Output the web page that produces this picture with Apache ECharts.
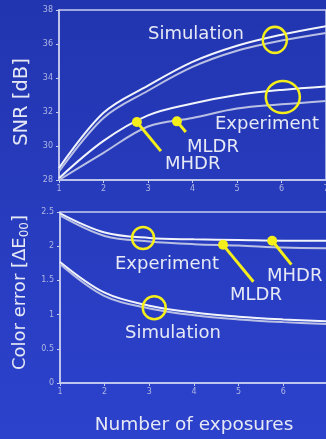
<!DOCTYPE html>
<html>
<head>
<meta charset="utf-8">
<script src="https://cdn.jsdelivr.net/npm/echarts@6/dist/echarts.min.js"></script>
<style>html,body{margin:0;padding:0;background:#2a3cc0;}#c{width:326px;height:439px;}</style>
</head>
<body>
<div id="c"></div>
<script>
// Categories (number of exposures)
const exposures = [1, 2, 3, 4, 5, 6, 7];
// SNR [dB]
const snrSimA = [28.7, 31.95, 33.55, 34.95, 35.9, 36.55, 37.05];
const snrSimB = [28.5, 31.65, 33.25, 34.65, 35.6, 36.2, 36.65];
const snrMHDR = [28.1, 30.3, 31.8, 32.5, 33.0, 33.3, 33.5];
const snrMLDR = [28.0, 29.6, 31.15, 31.65, 32.2, 32.45, 32.65];
// Color error [ΔE00]
const ceSimA = [1.77, 1.32, 1.13, 1.03, 0.97, 0.93, 0.90];
const ceSimB = [1.74, 1.27, 1.09, 0.99, 0.93, 0.89, 0.86];
const ceMHDR = [2.48, 2.20, 2.12, 2.10, 2.09, 2.08, 2.08];
const ceMLDR = [2.45, 2.15, 2.07, 2.03, 2.01, 1.98, 1.97];
// Tick labels
const snrTicks = [28, 30, 32, 34, 36, 38];
const ceTicks = [0, 0.5, 1, 1.5, 2, 2.5];

const pairs = arr => exposures.map((x, i) => [x, arr[i]]);
const bright = '#f2f4fb', dim = '#b9c0e4', yellow = '#f4ee1a';
const txt = '#e6e9f5', tick = '#aeb6e2';
const FONT = 'DejaVu Sans';

function lineSeries(name, data, color, xi, extra) {
  return Object.assign({
    name, type: 'line', xAxisIndex: xi, yAxisIndex: xi, data: pairs(data),
    smooth: 0.35, showSymbol: false, symbol: 'none',
    lineStyle: { color, width: 2 }, z: 3
  }, extra || {});
}
const dot = (coord) => ({ coord, symbol: 'circle', symbolSize: 10,
  itemStyle: { color: yellow }, label: { show: false } });
const ring = (coord, size) => ({ coord, symbol: 'circle', symbolSize: size,
  itemStyle: { color: 'rgba(0,0,0,0)', borderColor: yellow, borderWidth: 2.5 }, label: { show: false } });
const pointer = (a, b) => [{ coord: a, symbol: 'none' }, { coord: b, symbol: 'none' }];

const axisCommon = {
  type: 'value', min: 1, max: 7, interval: 1,
  axisLine: { show: true, lineStyle: { color: '#c7cdee', width: 1.5 } },
  axisTick: { show: true, inside: false, length: 3, lineStyle: { color: '#c7cdee' } },
  axisLabel: { color: tick, fontSize: 8, fontFamily: FONT, margin: 5 },
  splitLine: { show: false }
};

const chart = echarts.init(document.getElementById('c'));
chart.setOption({
  backgroundColor: {
    type: 'linear', x: 0, y: 0, x2: 0, y2: 1,
    colorStops: [{ offset: 0, color: '#2235b0' }, { offset: 1, color: '#2c42cc' }]
  },
  animation: false,
  grid: [
    { left: 59, top: 10, width: 267, height: 170, show: true, borderColor: '#c7cdee', borderWidth: 1.5, backgroundColor: 'transparent', outerBoundsMode: 'none', containLabel: false },
    { left: 60, top: 212, width: 268, height: 171, show: true, borderColor: '#c7cdee', borderWidth: 1.5, backgroundColor: 'transparent', outerBoundsMode: 'none', containLabel: false }
  ],
  xAxis: [
    Object.assign({}, axisCommon, { gridIndex: 0 }),
    Object.assign({}, axisCommon, { gridIndex: 1,
      name: 'Number of exposures', nameLocation: 'middle', nameGap: 33,
      nameTextStyle: { color: txt, fontSize: 18.5, fontFamily: FONT } })
  ],
  yAxis: [
    { type: 'value', gridIndex: 0, min: snrTicks[0], max: snrTicks[snrTicks.length - 1], interval: 2,
      axisLine: axisCommon.axisLine, axisTick: axisCommon.axisTick,
      axisLabel: { color: tick, fontSize: 8, fontFamily: FONT, margin: 6 }, splitLine: { show: false },
      name: 'SNR [dB]', nameLocation: 'middle', nameGap: 25, nameRotate: 90,
      nameTextStyle: { color: txt, fontSize: 19.5, fontFamily: FONT, padding: [0, 0, 0, -14] } },
    { type: 'value', gridIndex: 1, min: ceTicks[0], max: ceTicks[ceTicks.length - 1], interval: 0.5,
      axisLine: axisCommon.axisLine, axisTick: axisCommon.axisTick,
      axisLabel: { color: tick, fontSize: 8, fontFamily: FONT, margin: 6 }, splitLine: { show: false },
      name: '{a|Color error [ΔE}{s|00}{a|]}', nameLocation: 'middle', nameGap: 24, nameRotate: 90,
      nameTextStyle: { color: txt, fontSize: 18, fontFamily: FONT, padding: [0, 0, 0, 10],
        rich: { a: { color: txt, fontSize: 18, fontFamily: FONT },
                s: { color: txt, fontSize: 12, fontFamily: FONT, verticalAlign: 'bottom', padding: [8, 0, 0, 0] } } } }
  ],
  series: [
    lineSeries('Simulation MHDR', snrSimA, bright, 0, {
      markPoint: { data: [ring([5.85, 36.24], [24, 26])], z: 6 } }),
    lineSeries('Simulation MLDR', snrSimB, dim, 0),
    lineSeries('Experiment MHDR', snrMHDR, bright, 0, {
      markPoint: { data: [dot([2.75, 31.41]), ring([6.03, 32.88], [34, 32])], z: 6 },
      markLine: { silent: true, symbol: 'none', lineStyle: { color: yellow, width: 3, type: 'solid' },
        label: { show: false }, data: [pointer([2.75, 31.41], [3.29, 29.7])] } }),
    lineSeries('Experiment MLDR', snrMLDR, dim, 0, {
      markPoint: { data: [dot([3.65, 31.45])], z: 6 },
      markLine: { silent: true, symbol: 'none', lineStyle: { color: yellow, width: 3, type: 'solid' },
        label: { show: false }, data: [pointer([3.65, 31.45], [3.85, 30.82])] } }),
    lineSeries('Simulation MHDR ΔE', ceSimA, bright, 1, {
      markPoint: { data: [ring([3.11, 1.10], 23)], z: 6 } }),
    lineSeries('Simulation MLDR ΔE', ceSimB, dim, 1),
    lineSeries('Experiment MHDR ΔE', ceMHDR, bright, 1, {
      markPoint: { data: [dot([5.75, 2.08]), ring([2.86, 2.12], 22)], z: 6 },
      markLine: { silent: true, symbol: 'none', lineStyle: { color: yellow, width: 3, type: 'solid' },
        label: { show: false }, data: [pointer([5.75, 2.08], [6.18, 1.73])] } }),
    lineSeries('Experiment MLDR ΔE', ceMLDR, dim, 1, {
      markPoint: { data: [dot([4.65, 2.02])], z: 6 },
      markLine: { silent: true, symbol: 'none', lineStyle: { color: yellow, width: 3, type: 'solid' },
        label: { show: false }, data: [pointer([4.65, 2.02], [5.33, 1.48])] } })
  ],
  graphic: [
    { type: 'text', left: 148, top: 25, z: 10, style: { text: 'Simulation', fill: txt, font: '18px "DejaVu Sans"' } },
    { type: 'text', left: 215, top: 115, z: 10, style: { text: 'Experiment', fill: txt, font: '18px "DejaVu Sans"' } },
    { type: 'text', left: 187, top: 138, z: 10, style: { text: 'MLDR', fill: txt, font: '18px "DejaVu Sans"' } },
    { type: 'text', left: 165, top: 155, z: 10, style: { text: 'MHDR', fill: txt, font: '18px "DejaVu Sans"' } },
    { type: 'text', left: 115, top: 255, z: 10, style: { text: 'Experiment', fill: txt, font: '18px "DejaVu Sans"' } },
    { type: 'text', left: 267, top: 267, z: 10, style: { text: 'MHDR', fill: txt, font: '18px "DejaVu Sans"' } },
    { type: 'text', left: 230, top: 286, z: 10, style: { text: 'MLDR', fill: txt, font: '18px "DejaVu Sans"' } },
    { type: 'text', left: 125, top: 324, z: 10, style: { text: 'Simulation', fill: txt, font: '18px "DejaVu Sans"' } }
  ]
});
</script>
</body>
</html>
